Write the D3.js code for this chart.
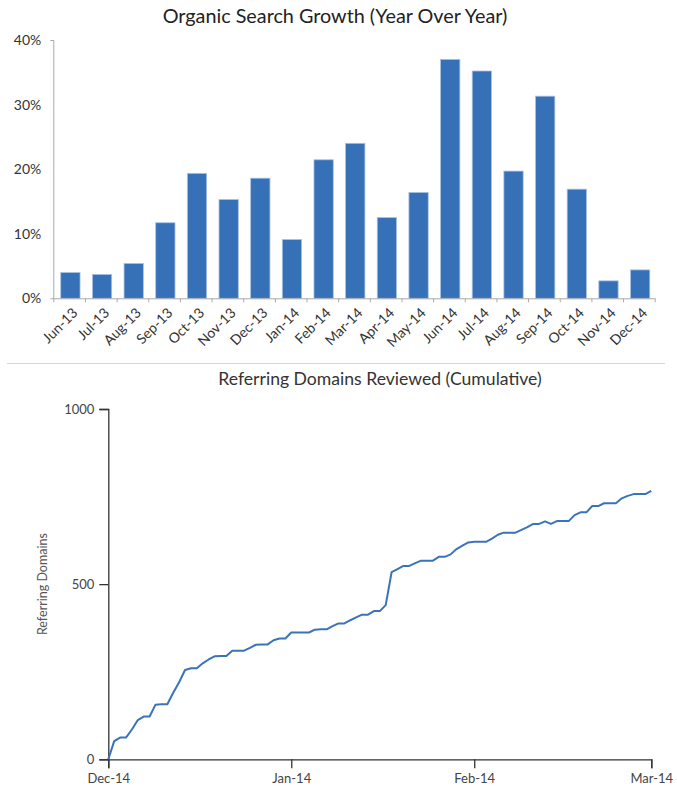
<!DOCTYPE html>
<html>
<head>
<meta charset="utf-8">
<script src="https://cdn.jsdelivr.net/npm/d3@7"></script>
<style>
  html, body { margin: 0; padding: 0; background: #fff; }
  svg { display: block; font-family: Lato, "Open Sans", sans-serif; }
</style>
</head>
<body>
<svg id="chart" width="677" height="788"></svg>
<script>
// ---- Top chart data ----
const months = ["Jun-13","Jul-13","Aug-13","Sep-13","Oct-13","Nov-13","Dec-13","Jan-14","Feb-14","Mar-14","Apr-14","May-14","Jun-14","Jul-14","Aug-14","Sep-14","Oct-14","Nov-14","Dec-14"];
const growth = [4.0, 3.7, 5.4, 11.7, 19.35, 15.3, 18.6, 9.1, 21.45, 24.0, 12.5, 16.4, 37.0, 35.2, 19.7, 31.3, 16.9, 2.7, 4.4];
const growthTicks = [0, 10, 20, 30, 40];

// ---- Bottom chart data ----
const domainsDay = d3.range(0, 93);
const domains = [0,52,62,62,85,112,122,122,156,157,157,190,220,255,260,260,274,285,294,295,
  295,310,310,310,318,327,328,328,340,345,345,362,362,362,362,370,371,371,380,388,
  388,397,405,413,413,423,423,440,534,543,552,552,560,567,567,567,578,578,585,600,
  610,619,621,621,621,630,641,647,647,647,655,663,672,672,679,672,680,680,680,697,
  705,705,723,723,731,731,731,745,752,757,757,757,766];
const dateTickValues = [0, 31, 62, 92];
const dateTickLabels = ["Dec-14", "Jan-14", "Feb-14", "Mar-14"];
const domainTicks = [0, 500, 1000];

const svg = d3.select("#chart");

// ================= TOP CHART =================
const t = { left: 53.3, right: 654.7, top: 40, bottom: 298.3 };
svg.append("text")
  .attr("x", 335).attr("y", 23)
  .attr("text-anchor", "middle")
  .attr("font-size", 19.8).attr("fill", "#222")
  .text("Organic Search Growth (Year Over Year)");

const xb = d3.scaleBand().domain(months).range([t.left, t.right]).padding(0);
const xi = d3.scaleLinear().domain([0, months.length]).range([t.left, t.right]);
const yt = d3.scaleLinear().domain([0, 40]).range([t.bottom, t.top]);

const gTop = svg.append("g");
gTop.selectAll("rect.bar").data(growth).join("rect")
  .attr("class", "bar")
  .attr("x", (d, i) => xb(months[i]) + xb.step() * 0.235)
  .attr("width", xb.step() * 0.61)
  .attr("y", d => yt(d))
  .attr("height", d => yt(0) - yt(d))
  .attr("fill", "#3670b6")
  .attr("stroke", "#a9c2e4")
  .attr("stroke-width", 0.8);

// y axis
const yAxisTop = svg.append("g")
  .attr("transform", `translate(${t.left},0)`)
  .call(d3.axisLeft(yt).tickValues(growthTicks).tickFormat(d => d + "%")
    .tickSizeInner(0).tickSizeOuter(3).tickPadding(12));
yAxisTop.select(".domain").attr("stroke", "#aaa");
yAxisTop.selectAll("text").attr("font-size", 14).attr("fill", "#333").attr("font-family", "Lato, sans-serif");

// x axis ticks at boundaries
const xAxisTop = svg.append("g")
  .attr("transform", `translate(0,${t.bottom})`)
  .call(d3.axisBottom(xi).tickValues(d3.range(0, months.length + 1)).tickFormat("")
    .tickSize(4).tickSizeOuter(0));
xAxisTop.select(".domain").attr("stroke", "#aaa");
xAxisTop.selectAll(".tick line").attr("stroke", "#aaa");

// rotated month labels
const xLabels = svg.append("g")
  .attr("transform", `translate(0,${t.bottom})`)
  .call(d3.axisBottom(xb).tickSize(0).tickPadding(0));
xLabels.select(".domain").remove();
xLabels.selectAll("text")
  .attr("font-size", 14).attr("fill", "#333").attr("font-family", "Lato, sans-serif")
  .attr("text-anchor", "end")
  .attr("dy", "0.35em")
  .attr("transform", "translate(6,12) rotate(-45)");

// separator
svg.append("line")
  .attr("x1", 7).attr("x2", 665).attr("y1", 363.5).attr("y2", 363.5)
  .attr("stroke", "#d6d6d6").attr("stroke-width", 1);

// ================= BOTTOM CHART =================
const b = { left: 108.3, right: 651.3, top: 409, bottom: 759.3 };
svg.append("text")
  .attr("x", 380).attr("y", 384.5)
  .attr("text-anchor", "middle")
  .attr("font-size", 17.6).attr("fill", "#333")
  .text("Referring Domains Reviewed (Cumulative)");

const xd = d3.scaleLinear().domain([0, 92]).range([b.left, b.right]);
const yd = d3.scaleLinear().domain([0, 1000]).range([b.bottom, b.top]);

const yAxisB = svg.append("g")
  .attr("transform", `translate(${b.left},0)`)
  .call(d3.axisLeft(yd).tickValues(domainTicks).tickFormat(d3.format("d")).tickSize(9).tickPadding(5));
yAxisB.select(".domain").attr("stroke", "#333").attr("stroke-width", 1.3);
yAxisB.selectAll(".tick line").attr("stroke", "#333").attr("stroke-width", 1.3);
yAxisB.selectAll("text").attr("font-size", 13).attr("fill", "#444").attr("font-family", "Lato, sans-serif");

const xAxisB = svg.append("g")
  .attr("transform", `translate(0,${b.bottom})`)
  .call(d3.axisBottom(xd).tickValues(dateTickValues)
    .tickFormat((d, i) => dateTickLabels[i]).tickSize(9).tickPadding(5));
xAxisB.select(".domain").attr("stroke", "#333").attr("stroke-width", 1.3);
xAxisB.selectAll(".tick line").attr("stroke", "#333").attr("stroke-width", 1.3);
xAxisB.selectAll("text").attr("font-size", 13).attr("fill", "#444").attr("font-family", "Lato, sans-serif");

svg.append("text")
  .attr("transform", `translate(47,${(b.top + b.bottom) / 2}) rotate(-90)`)
  .attr("text-anchor", "middle")
  .attr("font-size", 12.5).attr("fill", "#555")
  .text("Referring Domains");

const line = d3.line()
  .x((d, i) => xd(domainsDay[i]))
  .y(d => yd(d));
svg.append("path")
  .datum(domains)
  .attr("d", line)
  .attr("fill", "none")
  .attr("stroke", "#3a73b9")
  .attr("stroke-width", 2)
  .attr("stroke-linejoin", "round");
</script>
</body>
</html>
